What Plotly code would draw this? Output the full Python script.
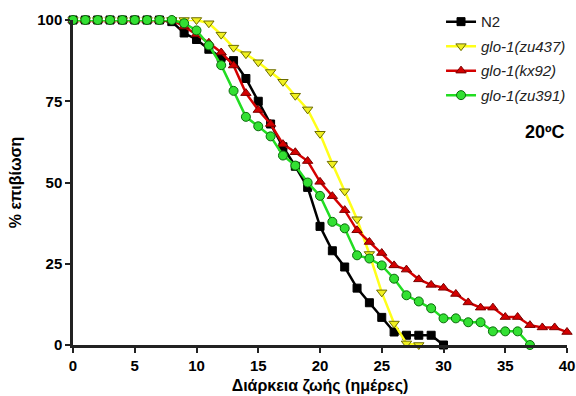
import plotly.graph_objects as go

days_n2 = list(range(0, 31))
n2 = [100, 100, 100, 100, 100, 100, 100, 100, 99.5, 96, 94, 91, 88.5, 87.5, 82, 75, 68, 61, 55, 48.5,
      36.5, 29, 24, 17.5, 13, 8.5, 4, 3, 3, 3, 0]

days_zu437 = list(range(0, 29))
zu437 = [100, 100, 100, 100, 100, 100, 100, 100, 100, 100, 100, 99, 95.5, 91.5, 89.5, 87, 84, 81, 76.7, 72.5,
         65, 55.8, 47.3, 38.7, 28, 16.2, 6.6, 0.5, 0]

days_kx92 = list(range(0, 41))
kx92 = [100, 100, 100, 100, 100, 100, 100, 100, 100, 98, 95.6, 93, 90, 86, 77.5, 72.3, 68, 61.8, 59.3, 56.6,
        50.2, 45.8, 41.5, 35.3, 31.7, 28.3, 24.5, 23.2, 20.2, 18.5, 17.6, 15.7, 13.1, 11.5, 11.5, 8.6, 8.6,
        6.1, 5.4, 5.4, 4]

days_zu391 = list(range(0, 38))
zu391 = [100, 100, 100, 100, 100, 100, 100, 100, 100, 99, 96.8, 92.2, 86.1, 78.2, 70.2, 67.3, 64.2, 58.3, 55.2, 50,
         45.9, 37.9, 35.9, 27.6, 26.6, 24.5, 20.4, 15.3, 13.4, 11.3, 8.2, 8.2, 7, 7, 4.2, 4.2, 4.2, 0]

x_ticks = [0, 5, 10, 15, 20, 25, 30, 35, 40]
y_ticks = [0, 25, 50, 75, 100]

series = [
    ("N2", days_n2, n2, "#000000", "square", "#000000", "#000000", 8),
    ("<i>glo-1(zu437)</i>", days_zu437, zu437, "#ffff1a", "triangle-down", "#f0f020", "#6b6b00", 9),
    ("<i>glo-1(kx92)</i>", days_kx92, kx92, "#d40000", "triangle-up", "#d40000", "#7a0000", 9),
    ("<i>glo-1(zu391)</i>", days_zu391, zu391, "#22dd22", "circle", "#33e033", "#0a6a0a", 9),
]

fig = go.Figure()
for i, (name, xs, ys, lc, sym, fc, oc, ms) in enumerate(series):
    fig.add_trace(go.Scatter(
        x=xs, y=ys, name=name, mode="lines+markers",
        line=dict(color=lc, width=2.5),
        marker=dict(symbol=sym, size=ms, color=fc, line=dict(color=oc, width=1)),
        cliponaxis=False, legendgroup=str(i),
    ))

axis_font = dict(family="Liberation Sans, Arial, sans-serif", size=15, color="#000000")

fig.update_layout(
    width=576, height=396,
    margin=dict(l=73, r=5, t=19, b=51),
    paper_bgcolor="white", plot_bgcolor="white",
    font=dict(family="Liberation Sans, Arial, sans-serif", color="#000000"),
    showlegend=True,
    legend=dict(x=0.745, y=1.045, xanchor="left", yanchor="top",
                font=dict(family="Liberation Sans, Arial, sans-serif", size=15, color="#222222"),
                bgcolor="rgba(0,0,0,0)", tracegroupgap=2, itemwidth=30),
    xaxis=dict(range=[0, 40], tickvals=x_ticks, ticktext=[f"<b>{v}</b>" for v in x_ticks],
               showline=True, linecolor="#222222", linewidth=2.5, ticks="outside", ticklen=5,
               tickwidth=2, tickcolor="#222222", showgrid=False, zeroline=False,
               tickfont=axis_font, automargin=False,
               title=dict(text="<b>Διάρκεια ζωής (ημέρες)</b>", font=dict(size=16), standoff=8)),
    yaxis=dict(range=[0, 100], tickvals=y_ticks, ticktext=[f"<b>{v}</b>" for v in y_ticks],
               showline=True, linecolor="#222222", linewidth=2.5, ticks="outside", ticklen=5,
               tickwidth=2, tickcolor="#222222", showgrid=False, zeroline=False,
               tickfont=axis_font, automargin=False,
               title=dict(text="<b>% επιβίωση</b>", font=dict(size=16), standoff=12)),
    annotations=[dict(text="<b>20ºC</b>", x=1.0, y=0.655, xref="paper", yref="paper",
                      xanchor="right", yanchor="middle", showarrow=False,
                      font=dict(family="Liberation Sans, Arial, sans-serif", size=18, color="#000000"))],
)

fig.write_html("out.html", config={"displayModeBar": False},
               post_script="document.body.style.margin='0';document.body.style.overflow='hidden';")
